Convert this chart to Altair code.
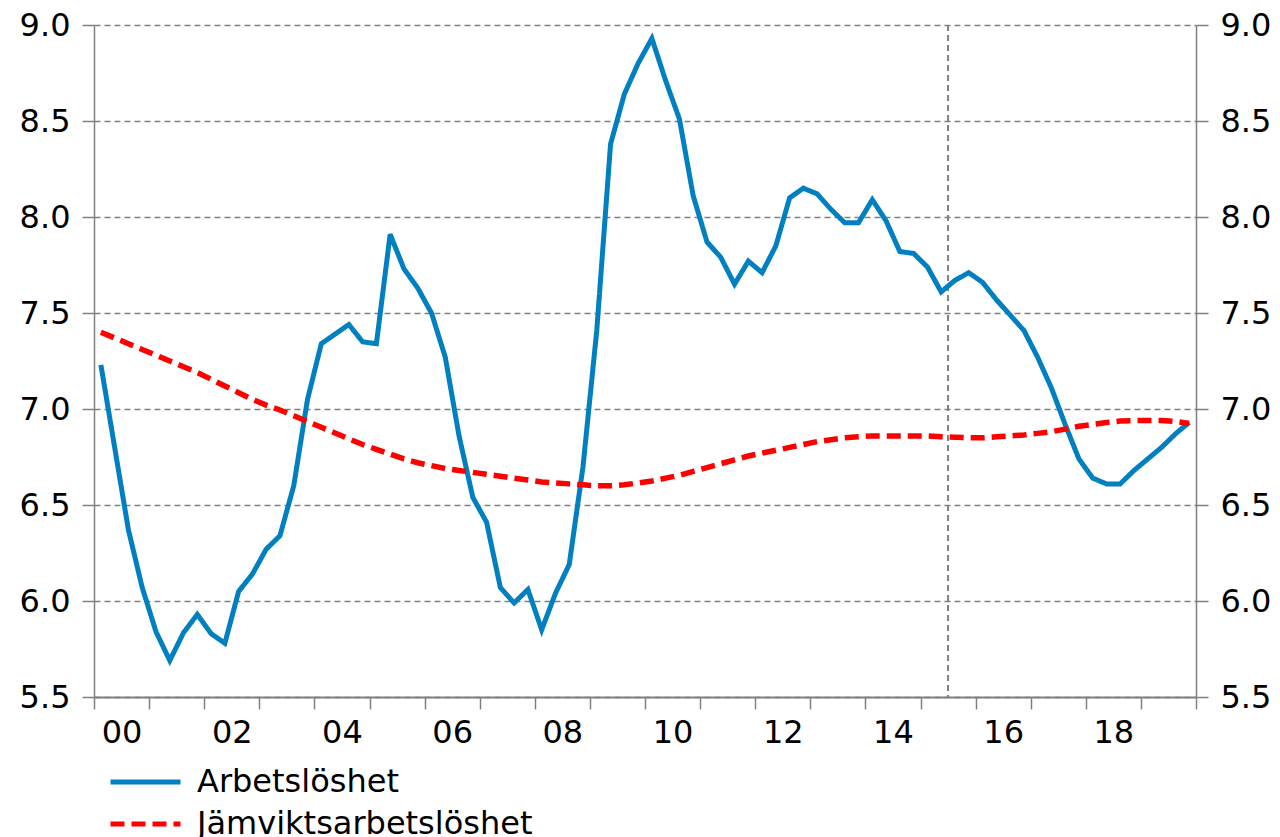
import altair as alt
import pandas as pd

# Quarterly data, 2000Q1 - 2019Q4
years = [y for y in range(2000, 2020) for _ in range(4)]
quarters = [q for _ in range(2000, 2020) for q in range(1, 5)]

arbetsloshet = [
    7.23, 6.80, 6.37, 6.07, 5.84, 5.69, 5.835, 5.93, 5.83, 5.78,
    6.05, 6.14, 6.27, 6.34, 6.60, 7.05, 7.34, 7.39, 7.44, 7.35,
    7.34, 7.91, 7.73, 7.63, 7.50, 7.27, 6.86, 6.54, 6.41, 6.07,
    5.99, 6.06, 5.85, 6.04, 6.19, 6.70, 7.41, 8.38, 8.64, 8.80,
    8.93, 8.71, 8.51, 8.11, 7.87, 7.79, 7.65, 7.77, 7.71, 7.85,
    8.10, 8.15, 8.12, 8.04, 7.97, 7.97, 8.09, 7.98, 7.82, 7.81,
    7.74, 7.61, 7.67, 7.71, 7.66, 7.57, 7.49, 7.41, 7.27, 7.11,
    6.92, 6.74, 6.64, 6.61, 6.61, 6.68, 6.74, 6.80, 6.87, 6.93,
]

jamvikt = [
    7.40, 7.37, 7.34, 7.31, 7.28, 7.25, 7.22, 7.19, 7.155, 7.12,
    7.085, 7.05, 7.02, 6.995, 6.965, 6.935, 6.905, 6.875, 6.845, 6.815,
    6.79, 6.765, 6.74, 6.72, 6.705, 6.69, 6.68, 6.67, 6.66, 6.65,
    6.64, 6.63, 6.62, 6.615, 6.61, 6.605, 6.60, 6.60, 6.605, 6.615,
    6.625, 6.64, 6.655, 6.675, 6.695, 6.715, 6.735, 6.755, 6.77, 6.785,
    6.80, 6.815, 6.83, 6.84, 6.85, 6.855, 6.86, 6.86, 6.86, 6.86,
    6.86, 6.856, 6.853, 6.85, 6.85, 6.855, 6.86, 6.865, 6.873, 6.882,
    6.895, 6.91, 6.92, 6.93, 6.937, 6.94, 6.94, 6.94, 6.935, 6.925,
]

series_names = ["Arbetslöshet", "Jämviktsarbetslöshet"]
series_colors = ["#0080C0", "#FF0000"]
x_tick_values = list(range(2000, 2021))
y_tick_values = [5.5, 6.0, 6.5, 7.0, 7.5, 8.0, 8.5, 9.0]
forecast_start = [2015.5]

t = [y + (q - 0.5) / 4 for y, q in zip(years, quarters)]
df = pd.concat([
    pd.DataFrame({"t": t, "value": arbetsloshet, "series": series_names[0]}),
    pd.DataFrame({"t": t, "value": jamvikt, "series": series_names[1]}),
])
df_rule = pd.DataFrame({"t": forecast_start})

FONT = "DejaVu Sans"
W, H = 1102, 672

xscale = alt.Scale(domain=[2000, 2020], nice=False, zero=False)
yscale = alt.Scale(domain=[5.5, 9.0], nice=False, zero=False)

x_axis = alt.Axis(
    values=x_tick_values,
    labelExpr="datum.value % 2 == 0 && datum.value < 2020 ? substring(toString(datum.value), 2, 4) : ''",
    labelOffset=W / 20 / 2,
    labelOverlap=False,
    labelFlush=False,
    labelBound=False,
    grid=False,
    tickSize=12,
    tickColor="#808080",
    tickWidth=1.5,
    domainColor="#808080",
    domainWidth=2,
    labelFont=FONT,
    labelFontSize=32,
    labelColor="black",
    labelPadding=8,
    title=None,
)

def y_axis(orient, grid):
    return alt.Axis(
        orient=orient,
        values=y_tick_values,
        format=".1f",
        grid=grid,
        gridDash=[6, 4],
        gridColor="#808080",
        gridWidth=1.5,
        tickSize=12,
        tickColor="#808080",
        tickWidth=1.5,
        domainColor="#808080",
        domainWidth=1.5,
        labelFont=FONT,
        labelFontSize=32,
        labelColor="black",
        labelPadding=12,
        title=None,
    )

color_scale = alt.Scale(domain=series_names, range=series_colors)
dash_scale = alt.Scale(domain=series_names, range=[[1, 0], [14, 7]])
legend = alt.Legend(
    orient="none",
    legendX=14,
    legendY=736,
    direction="vertical",
    title=None,
    symbolType="stroke",
    symbolSize=4900,
    symbolStrokeWidth=5,
    labelFont=FONT,
    labelFontSize=32,
    labelColor="black",
    labelOffset=14,
    labelLimit=0,
    clipHeight=42,
    rowPadding=0,
)

base = alt.Chart(df).encode(
    x=alt.X("t:Q", scale=xscale, axis=x_axis),
    color=alt.Color("series:N", scale=color_scale, legend=legend),
    strokeDash=alt.StrokeDash("series:N", scale=dash_scale, legend=legend),
)

blue = base.transform_filter(alt.datum.series == series_names[0]).mark_line(
    strokeWidth=5
).encode(y=alt.Y("value:Q", scale=yscale, axis=y_axis("left", True)))

red = base.transform_filter(alt.datum.series == series_names[1]).mark_line(
    strokeWidth=5.5
).encode(y=alt.Y("value:Q", scale=yscale, axis=y_axis("right", False)))

rule = alt.Chart(df_rule).mark_rule(
    color="#808080", strokeDash=[6, 4], strokeWidth=2
).encode(x=alt.X("t:Q", scale=xscale, axis=x_axis))

chart = (
    alt.layer(rule, blue, red)
    .resolve_scale(y="shared")
    .resolve_axis(y="independent")
    .properties(
        width=W,
        height=H,
        autosize=alt.AutoSizeParams(type="none"),
        padding={"left": 86, "top": 17, "right": 76, "bottom": 140},
    )
    .configure_view(stroke=None)
)

chart.save("out.html", embed_options={"renderer": "svg", "actions": False})
